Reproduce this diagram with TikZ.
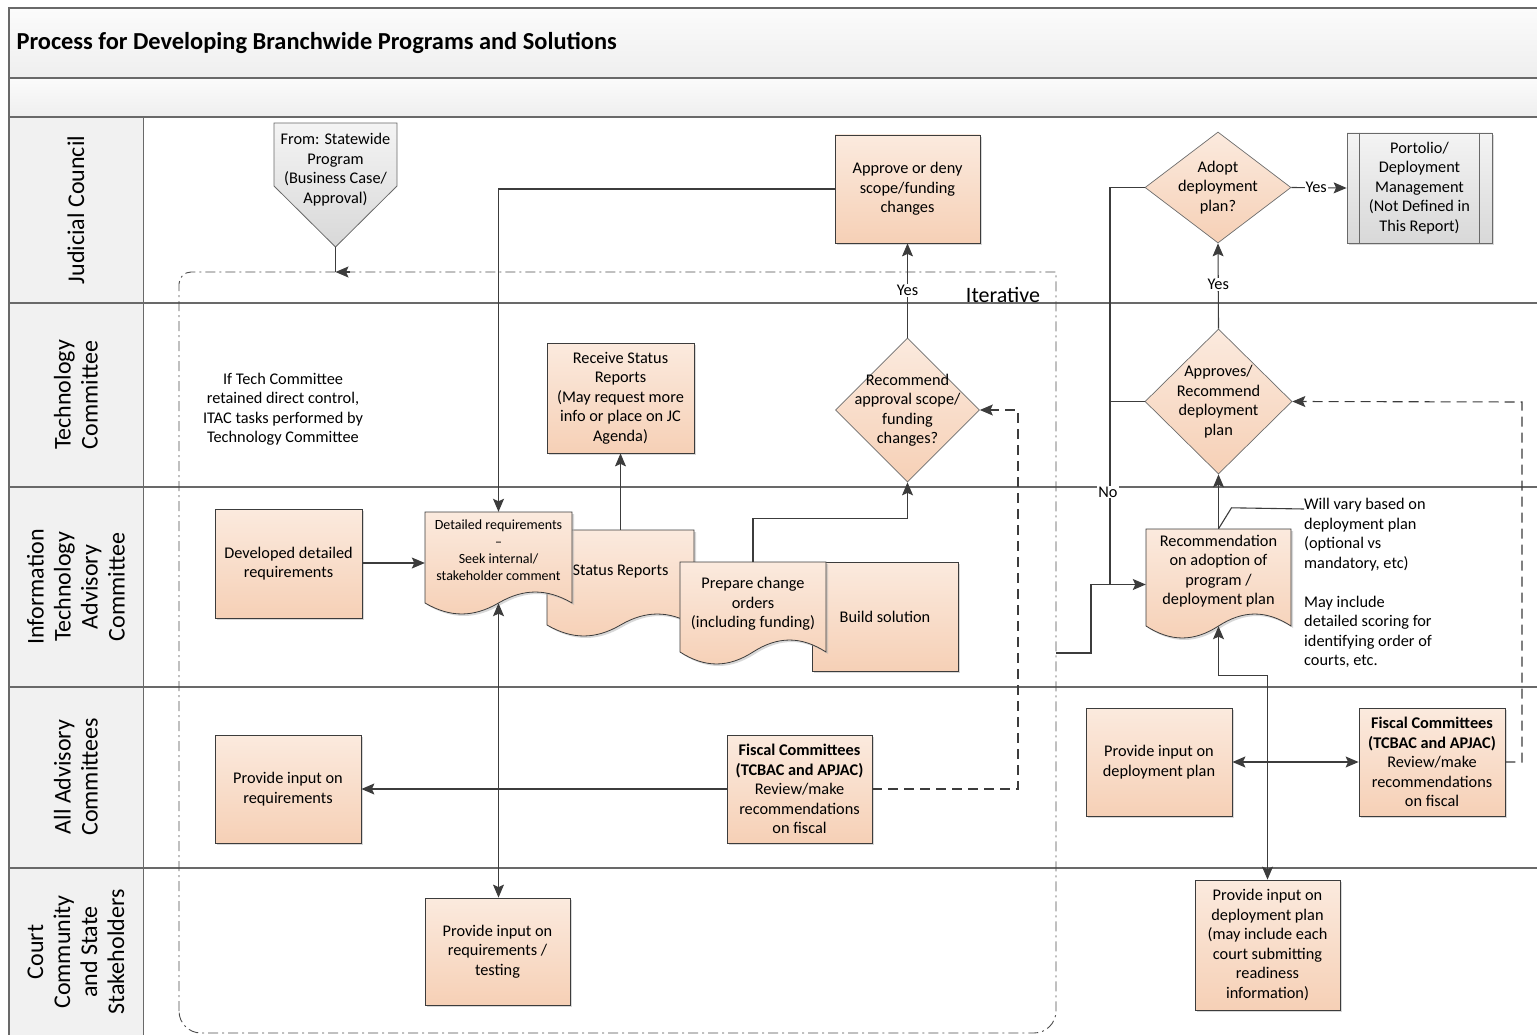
\documentclass[tikz,border=0pt]{standalone}
\usepackage{fontspec}
\setmainfont{Carlito}
\usetikzlibrary{positioning,arrows.meta,shapes.geometric,shadows}

\definecolor{peachtop}{RGB}{251,234,222}
\definecolor{peachbot}{RGB}{246,208,182}
\definecolor{greytop}{RGB}{244,244,244}
\definecolor{greybot}{RGB}{216,216,216}
\definecolor{inkline}{RGB}{60,60,60}
\definecolor{laneline}{RGB}{105,105,105}
\definecolor{headfill}{RGB}{241,241,241}

% document outline: left, top, right, side bottom, wave height
\newcommand{\wavedoc}[5]{(#1,#2) -- (#3,#2) -- (#3,#4)
  .. controls ({#3-0.17*(#3-#1)},{#4-1.33*#5}) and ({#3-0.33*(#3-#1)},{#4-1.33*#5}) .. ({0.5*(#1+#3)},#4)
  .. controls ({0.5*(#1+#3)-0.17*(#3-#1)},{#4+1.33*#5}) and ({0.5*(#1+#3)-0.33*(#3-#1)},{#4+1.33*#5}) .. (#1,#4) -- cycle}

\tikzset{
  boxshadow/.style={drop shadow={shadow xshift=2pt,shadow yshift=-2pt,fill=black!30}},
  task/.style={rectangle,draw=inkline,line width=0.8pt,top color=peachtop,bottom color=peachbot,boxshadow,align=center,inner sep=2pt},
  greytask/.style={rectangle,draw=laneline,line width=0.8pt,top color=greytop,bottom color=greybot,boxshadow,align=center,inner sep=2pt},
  decide/.style={diamond,draw=inkline!75,line width=0.7pt,top color=peachtop,bottom color=peachbot,inner sep=0pt},
  docshape/.style={draw=inkline,line width=0.8pt,top color=peachtop,bottom color=peachbot,boxshadow},
  docspot/.style={rectangle,inner sep=0pt},
  flow/.style={draw=inkline,line width=1.1pt,->},
  twoway/.style={draw=inkline,line width=1.1pt,<->},
  link/.style={draw=inkline,line width=1.1pt},
  hint/.style={draw=inkline,line width=1.1pt,dash pattern=on 10pt off 6pt},
  yesbox/.style={fill=white,inner sep=1pt},
  lanehead/.style={rotate=90,align=center,font=\fontsize{24}{27}\selectfont},
  lanesep/.style={draw=laneline,line width=1.6pt},
}

\begin{document}
\begin{tikzpicture}[x=1pt,y=-1pt,>={Stealth[length=13pt,width=11pt,inset=2.5pt]},
  font=\fontsize{16.3}{19.5}\selectfont]
\useasboundingbox (0,0) rectangle (1537,1035);

% pool, title and lanes
\path[top color=gray!3,bottom color=gray!13] (9,8) rectangle (1545,78);
\path[top color=gray!3,bottom color=gray!13] (9,78) rectangle (1545,117);
\path[fill=headfill] (9,117) rectangle (143,1040);
\draw[lanesep] (9,1040) -- (9,8) -- (1545,8);
\foreach \y in {78,117,303,487,687,868}
  \draw[lanesep] (9,\y) -- (1545,\y);
\draw[laneline,line width=0.8pt] (143,117) -- (143,1040);
\node[anchor=west,font=\fontsize{24.4}{28}\selectfont\bfseries] (title) at (13,43) {Process for Developing Branchwide Programs and Solutions};

\node[lanehead] (jc) at (76,210) {Judicial Council};
\node[lanehead] (tc) at (76,395) {Technology\\Committee};
\node[lanehead] (itac) at (76,587) {Information\\Technology\\Advisory\\Committee};
\node[lanehead] (aac) at (76,777) {All Advisory\\Committees};
\node[lanehead] (ccs) at (76,952) {Court\\Community\\and State\\Stakeholders};

% iterative group
\draw[gray!60!black,line width=0.9pt,dash pattern=on 10pt off 4pt on 2pt off 4pt]
  (179,1033) [rounded corners=12pt] -- (179,272) [sharp corners] -- (1056,272)
  [rounded corners=22pt] -- (1056,1033) -- cycle;
\node[font=\fontsize{22}{24}\selectfont] (iter) at (1003,295) {Iterative};

% Judicial Council
\path[draw=laneline,line width=0.8pt,top color=greytop,bottom color=greybot]
  (274,123) -- (397,123) -- (397,186) -- (335.5,247) -- (274,186) -- cycle;
\node[align=center] (from) at (335.5,169.5) {From: Statewide\\Program\\(Business Case/\\Approval)};
\coordinate (fromtip) at (335.5,247);
\coordinate (fromjoin) at (335.5,272);
\node[task,minimum width=145pt,minimum height=108pt] (approve) at (907.5,189) {Approve or deny\\scope/funding\\changes};
\node[decide,minimum width=146pt,minimum height=111pt,
  label={[align=center]center:{Adopt\\deployment\\plan?}}] (adopt) at (1218,187.5) {};
\node[greytask,minimum width=145pt,minimum height=110pt] (portfolio) at (1419.5,188) {Portolio/\\Deployment\\Management\\(Not Defined in\\This Report)};
\draw[laneline,line width=0.8pt] ([xshift=13pt]portfolio.north west) -- ([xshift=13pt]portfolio.south west);
\draw[laneline,line width=0.8pt] ([xshift=-13pt]portfolio.north east) -- ([xshift=-13pt]portfolio.south east);

% Technology Committee
\node[align=center] (technote) at (283,409) {If Tech Committee\\retained direct control,\\ITAC tasks performed by\\Technology Committee};
\node[task,minimum width=147pt,minimum height=110pt] (recvstat) at (620.5,398) {Receive Status\\Reports\\(May request more\\info or place on JC\\Agenda)};
\node[decide,minimum width=144pt,minimum height=144pt,
  label={[align=center]center:{Recommend\\approval scope/\\funding\\changes?}}] (recappr) at (907.5,410) {};
\node[decide,minimum width=147pt,minimum height=145pt,
  label={[align=center]center:{Approves/\\Recommend\\deployment\\plan}}] (approves) at (1218.5,401.5) {};

% Information Technology Advisory Committee
\node[task,minimum width=147pt,minimum height=109pt] (devreq) at (288.5,563.5) {Developed detailed\\requirements};
\path[docshape] \wavedoc{547}{530}{694}{625}{11};
\node[docspot,minimum width=147pt,minimum height=95pt,
  label={[yshift=5.5pt]center:{Status Reports}}] (statrep) at (620.5,577.5) {};
\path[docshape] \wavedoc{425}{512}{572}{603}{11};
\node[docspot,minimum width=147pt,minimum height=91pt,
  label={[yshift=7.5pt,align=center,font=\fontsize{14}{17}\selectfont]center:{Detailed requirements\\--\\Seek internal/\\stakeholder comment}}] (detreq) at (498.5,557.5) {};
\node[task,minimum width=146pt,minimum height=109pt] (build) at (885,616.5) {Build solution};
\path[docshape] \wavedoc{680}{562}{826}{652}{12};
\node[docspot,minimum width=146pt,minimum height=90pt,
  label={[yshift=3pt,align=center]center:{Prepare change\\orders\\(including funding)}}] (prepchg) at (753,607) {};
\path[docshape] \wavedoc{1146}{529}{1291}{626}{12};
\node[docspot,minimum width=145pt,minimum height=97pt,
  label={[yshift=6.5pt,align=center]center:{Recommendation\\on adoption of\\program /\\deployment plan}}] (recom) at (1218.5,577.5) {};
\node[anchor=north west,align=left,inner sep=0pt] (note) at (1304,498) {Will vary based on\\deployment plan\\(optional vs\\mandatory, etc)\\[19.5pt]May include\\detailed scoring for\\identifying order of\\courts, etc.};

% All Advisory Committees
\node[task,minimum width=146pt,minimum height=108pt] (provreq) at (288,789) {Provide input on\\requirements};
\node[task,minimum width=145pt,minimum height=108pt] (fiscalA) at (799.5,789) {\textbf{Fiscal Committees}\\\textbf{(TCBAC and APJAC)}\\Review/make\\recommendations\\on fiscal};
\node[task,minimum width=146pt,minimum height=108pt] (provdep) at (1159,762) {Provide input on\\deployment plan};
\node[task,minimum width=146pt,minimum height=108pt] (fiscalB) at (1432,762) {\textbf{Fiscal Committees}\\\textbf{(TCBAC and APJAC)}\\Review/make\\recommendations\\on fiscal};

% Court Community and State Stakeholders
\node[task,minimum width=145pt,minimum height=107pt] (provtest) at (497.5,951.5) {Provide input on\\requirements /\\testing};
\node[task,minimum width=145pt,minimum height=130pt] (provcourt) at (1267.5,945) {Provide input on\\deployment plan\\(may include each\\court submitting\\readiness\\information)};

% connectors
\draw[link] (fromtip) -- (fromjoin);
\draw[flow] ([xshift=14pt]fromjoin) -- (fromjoin);
\draw[flow] (devreq.east |- 0,563) -- (detreq.west |- 0,563);
\draw[flow] (approve.west) -| (detreq.north);
\draw[twoway] (detreq.south) -- (detreq.south |- provtest.north);
\draw[flow] (statrep.north) -- (recvstat.south);
\draw[flow] (prepchg.north) -- ++(0,-43) -| (recappr.south);
\draw[flow] (recappr.north) -- node[yesbox,pos=0.5] {Yes} (approve.south);
\draw[flow] (fiscalA.west) -- (provreq.east);
\coordinate (dashA) at (1018,410);
\draw[hint,->] (fiscalA.east) -| (dashA) -- (recappr.east);

\coordinate (iterout) at (1056,653);
\coordinate (nojoin) at (1110,584);
\draw[link] (adopt.west) -| (nojoin);
\draw[link] (approves.west) -- (approves.west -| nojoin);
\draw[flow] (iterout) -- ++(35,0) |- ([yshift=-7pt]recom.west);
\node[yesbox] (no) at (1108,492) {No};
\draw[flow] (recom.north) -- (approves.south);
\draw[flow] (approves.north) -- node[yesbox,pos=0.52] {Yes} (adopt.south);
\draw[flow] (adopt.east) -- node[yesbox,pos=0.45] {Yes} (portfolio.west);
\draw[link] (recom.north) -- ++(13,-21) -- ([yshift=-11pt]note.north west);
\draw[twoway] (provdep.east) -- (fiscalB.west);
\draw[twoway] (recom.south) -- ++(0,49) -| (provcourt.north);
\coordinate (dashB) at (1522,402);
\draw[hint,->] (fiscalB.east) -| (dashB) -- (approves.east);
\end{tikzpicture}
\end{document}
